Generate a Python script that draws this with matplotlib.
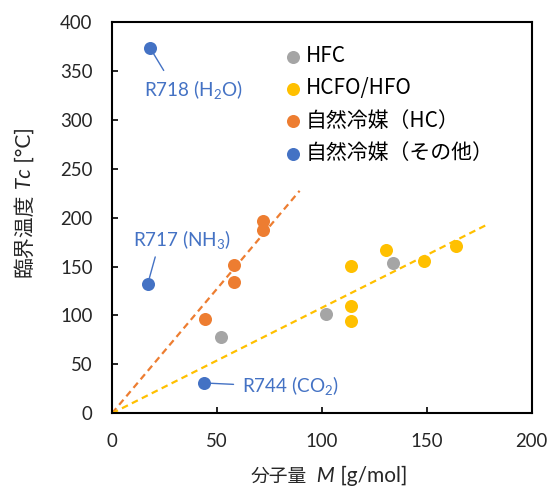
import matplotlib
matplotlib.use("Agg")
import matplotlib.pyplot as plt
import numpy as np

plt.rcParams['font.family'] = ['Lato', 'Noto Sans CJK JP', 'DejaVu Sans']
plt.rcParams['mathtext.fontset'] = 'custom'
plt.rcParams['mathtext.rm'] = 'Lato'
plt.rcParams['mathtext.it'] = 'Lato:italic'
plt.rcParams['mathtext.default'] = 'regular'

# Data: molecular weight M [g/mol], critical temperature Tc [°C]
hfc_M = [52.02, 102.03, 134.05]
hfc_Tc = [78.1, 101.1, 154.0]

hfo_M = [114.04, 114.04, 114.04, 130.5, 148.5, 164.06]
hfo_Tc = [150.1, 109.4, 94.7, 166.5, 155.5, 171.3]

hc_M = [44.1, 58.12, 58.12, 72.15, 72.15]
hc_Tc = [96.7, 152.0, 134.7, 196.6, 187.2]

other_names = ['R718 (H$_2$O)', 'R717 (NH$_3$)', 'R744 (CO$_2$)']
other_M = [18.02, 17.03, 44.01]
other_Tc = [373.9, 132.3, 31.0]

series_labels = ['HFC', 'HCFO/HFO', '自然冷媒（HC）', '自然冷媒（その他）']
colors = ['#A5A5A5', '#FFC000', '#ED7D31', '#4472C4']

x_ticks = [0, 50, 100, 150, 200]
y_ticks = [0, 50, 100, 150, 200, 250, 300, 350, 400]

# trendline extents (through origin)
hc_trend_xmax = 89.4
hfo_trend_xmax = 178.8

W, H = 549, 487
AX_L, AX_R, AX_T, AX_B = 112, 531.7, 22, 413.3
fig = plt.figure(figsize=(W / 100, H / 100), dpi=100)
ax = fig.add_axes([AX_L / W, 1 - AX_B / H, (AX_R - AX_L) / W, (AX_B - AX_T) / H])


def fx(px):
    return (px - AX_L) / (AX_R - AX_L)


def fy(py):
    return (AX_B - py) / (AX_B - AX_T)


ms = 88
ax.scatter(hfc_M, hfc_Tc, s=ms, color=colors[0], label=series_labels[0], zorder=3, linewidths=0)
ax.scatter(hfo_M, hfo_Tc, s=ms, color=colors[1], label=series_labels[1], zorder=3, linewidths=0)
ax.scatter(hc_M, hc_Tc, s=ms, color=colors[2], label=series_labels[2], zorder=3, linewidths=0)
ax.scatter(other_M, other_Tc, s=ms, color=colors[3], label=series_labels[3], zorder=3, linewidths=0)

# Linear trendlines through the origin (least squares)
hc_x = np.array(hc_M); hc_y = np.array(hc_Tc)
k_hc = (hc_x * hc_y).sum() / (hc_x ** 2).sum()
hfo_x = np.array(hfo_M); hfo_y = np.array(hfo_Tc)
k_hfo = (hfo_x * hfo_y).sum() / (hfo_x ** 2).sum()
ax.plot([0, hc_trend_xmax], [0, k_hc * hc_trend_xmax], color=colors[2], lw=1.6,
        ls=(0, (3, 2)), zorder=2)
ax.plot([0, hfo_trend_xmax], [0, k_hfo * hfo_trend_xmax], color=colors[1], lw=1.6,
        ls=(0, (3, 2)), zorder=2)

# Annotations for other natural refrigerants
label_pos = [(15.4, 331), (9.9, 177.2), (61.9, 28.2)]
leader_off = [(10, -16.5), (5.4, 19.4), (21, -1)]
for name, mx, my, (tx, ty), (dx, dy) in zip(other_names, other_M, other_Tc, label_pos, leader_off):
    ax.annotate('', xy=(mx, my), xytext=(dx, dy), textcoords='offset points',
                arrowprops=dict(arrowstyle='-', color=colors[3], lw=1.0,
                                shrinkA=0, shrinkB=0))
    ax.text(tx, ty, name, color=colors[3], fontsize=13.6, ha='left', va='center')

ax.set_xlim(0, 200)
ax.set_ylim(0, 400)
ax.set_xticks(x_ticks)
ax.set_yticks(y_ticks)
ax.tick_params(direction='in', length=4, width=1.2, labelsize=13.4, pad=14,
               labelcolor='#262626')
for sp in ax.spines.values():
    sp.set_linewidth(1.5)
    sp.set_color('black')


def rich_label(x, y, pieces, vertical=False):
    prev = None
    for txt, props in pieces:
        common = dict(ha='left', va='baseline', rotation=90 if vertical else 0,
                      rotation_mode='anchor', color='#262626', **props)
        if prev is None:
            t = ax.text(x, y, txt, transform=ax.transAxes, clip_on=False, **common)
        elif vertical:
            t = ax.annotate(txt, xy=(x, 1), xycoords=('axes fraction', prev),
                            annotation_clip=False, **common)
        else:
            t = ax.annotate(txt, xy=(1, y), xycoords=(prev, 'axes fraction'),
                            annotation_clip=False, **common)
        prev = t


cjk = 'Noto Sans CJK JP'
rich_label(fx(251), fy(482), [
    ('分子量', dict(family=cjk, fontsize=13.5)),
    ('  M', dict(family='Lato', style='italic', fontsize=15)),
    (' [g/mol]', dict(family='Lato', fontsize=15)),
])
rich_label(fx(30.5), fy(277), [
    ('臨界温度', dict(family=cjk, fontsize=15)),
    (' Tc', dict(family='Lato', style='italic', fontsize=15)),
    (' [°C]', dict(family='Lato', fontsize=15)),
], vertical=True)

leg = ax.legend(loc='upper left', bbox_to_anchor=(fx(285.7), fy(45)),
                frameon=False, prop={'family': cjk, 'size': 15},
                handlelength=0.7, handletextpad=0.25,
                borderpad=0, borderaxespad=0, labelspacing=0.5, scatterpoints=1)

fig.savefig('out.png', dpi=100)
